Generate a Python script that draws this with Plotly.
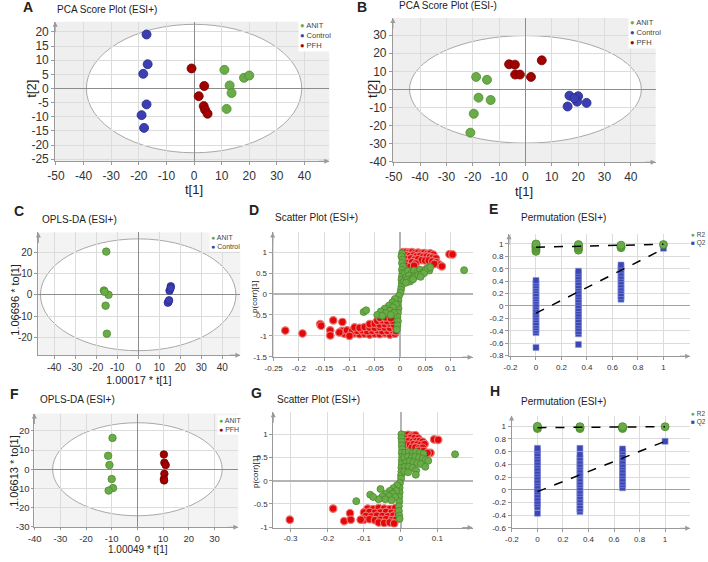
import plotly.graph_objects as go

W, H = 708, 562
FONT = "Liberation Sans Narrow, Arial Narrow, Liberation Sans, sans-serif"
TFONT = "Liberation Sans, Arial, sans-serif"

GREEN, GREEN_EDGE = "#6aad48", "#4b8a2f"
BLUE, BLUE_EDGE = "#3b3fb3", "#262985"
DARKRED, DARKRED_EDGE = "#a30000", "#6e0000"
RED, RED_EDGE = "#e20808", "#ec7474"
AXIS, GRID, ZERO, TICK = "#9a9a9a", "#dcdcdc", "#8c8c8c", "#333333"

# ---------------- data ----------------
# A: PCA score plot (ESI+), (t[1], t[2])
pca_pos_anit = [(11.0, 6.6), (18.1, 3.8), (20.0, 4.6), (12.9, 1.1), (13.6, -1.6), (11.8, -7.2)]
pca_pos_control = [(-17.2, 19.1), (-16.8, 8.6), (-18.4, 5.2), (-17.2, -5.6), (-19.0, -9.4), (-18.1, -13.9)]
pca_pos_pfh = [(-0.9, 7.1), (3.7, 0.9), (1.7, -2.7), (3.5, -6.2), (4.0, -7.5), (4.9, -8.9)]

# B: PCA score plot (ESI-)
pca_neg_anit = [(-18.7, 6.9), (-14.6, 5.3), (-17.8, -4.6), (-13.2, -5.9), (-19.6, -13.5), (-20.9, -24.0)]
pca_neg_control = [(16.7, -3.5), (20.0, -3.8), (19.6, -6.8), (16.0, -9.5), (23.2, -7.5), (18.6, -4.9)]
pca_neg_pfh = [(-6.2, 13.9), (-4.0, 13.7), (-3.9, 8.2), (-2.1, 8.2), (2.1, 6.9), (6.2, 16.1)]

# C / F: OPLS-DA scores
opls_c_anit = [(-15.2, 20.3), (-16.3, 2.0), (-14.1, 0.0), (-15.5, -5.1), (-14.9, -18.3), (-16.0, 1.4)]
opls_c_control = [(15.5, 4.0), (14.9, 1.9), (14.4, -3.3), (14.1, -3.7), (15.4, 3.1), (14.7, -2.6)]
opls_f_anit = [(-9.7, 16.3), (-11.4, 7.0), (-10.9, 2.2), (-10.0, -5.1), (-9.5, -9.8), (-11.2, -11.1)]
opls_f_pfh = [(10.3, 7.7), (10.5, 3.4), (11.0, 2.2), (10.5, -2.4), (10.3, -5.1), (10.4, -5.8)]

# Hotelling ellipse half-axes (t1, t2)
ellipse_a = (39.0, 22.7)
ellipse_b = (44.0, 29.8)
ellipse_c = (46.5, 26.3)
ellipse_f = (33.0, 24.2)

# D: S-plot (p[1], p(corr)[1])
splot_d_red = [
    (0.006, 1.0), (0.012, 1.0), (0.018, 0.99), (0.024, 1.0), (0.030, 0.98), (0.036, 0.99), (0.042, 0.97),
    (0.048, 0.98), (0.054, 0.96), (0.060, 0.97), (0.066, 0.94),
    (0.008, 0.92), (0.014, 0.93), (0.020, 0.91), (0.027, 0.92), (0.033, 0.90), (0.040, 0.91), (0.046, 0.89),
    (0.053, 0.90), (0.059, 0.88), (0.065, 0.87), (0.071, 0.85),
    (0.009, 0.84), (0.015, 0.83), (0.022, 0.85), (0.029, 0.82), (0.036, 0.83), (0.043, 0.81), (0.050, 0.80),
    (0.057, 0.80), (0.064, 0.78), (0.072, 0.76), (0.078, 0.70),
    (0.010, 0.76), (0.017, 0.74), (0.024, 0.76), (0.031, 0.73), (0.012, 0.67), (0.020, 0.65), (0.028, 0.68),
    (0.008, 0.60), (0.098, 0.95), (0.104, 0.945), (0.083, 0.66), (0.068, 0.72),
    (-0.110, -0.95), (-0.100, -0.96), (-0.090, -0.94), (-0.080, -0.96), (-0.070, -0.95), (-0.060, -0.97),
    (-0.050, -0.95), (-0.040, -0.96), (-0.030, -0.94), (-0.020, -0.97), (-0.010, -0.95),
    (-0.115, -0.88), (-0.105, -0.87), (-0.095, -0.89), (-0.085, -0.88), (-0.075, -0.87), (-0.065, -0.89),
    (-0.055, -0.88), (-0.045, -0.87), (-0.035, -0.89), (-0.025, -0.88), (-0.015, -0.87), (-0.008, -0.89),
    (-0.090, -0.80), (-0.080, -0.81), (-0.070, -0.79), (-0.060, -0.80), (-0.050, -0.81), (-0.040, -0.79),
    (-0.030, -0.80), (-0.020, -0.81), (-0.010, -0.79),
    (-0.060, -0.72), (-0.050, -0.71), (-0.040, -0.73), (-0.030, -0.72), (-0.020, -0.71), (-0.012, -0.73),
    (-0.045, -0.64), (-0.035, -0.63), (-0.025, -0.65), (-0.015, -0.64),
    (-0.040, -0.57), (-0.028, -0.56), (-0.018, -0.58),
    (-0.120, -0.92), (-0.100, -1.0),
    (-0.227, -0.874), (-0.193, -0.945), (-0.158, -0.72), (-0.156, -0.76), (-0.138, -0.87), (-0.138, -0.99),
    (-0.132, -0.63), (-0.114, -0.67),
]
splot_d_green = [
    (0.004, 0.97), (0.003, 0.90), (0.005, 0.82), (0.004, 0.74), (0.006, 0.66), (0.004, 0.58), (0.005, 0.50),
    (0.004, 0.42), (0.003, 0.34), (0.004, 0.26), (0.003, 0.18), (0.002, 0.10), (0.001, 0.03),
    (0.010, 0.50), (0.016, 0.55), (0.022, 0.48), (0.028, 0.56), (0.034, 0.50), (0.040, 0.58), (0.046, 0.52),
    (0.052, 0.60), (0.058, 0.56), (0.012, 0.40), (0.018, 0.44), (0.024, 0.38), (0.030, 0.42), (0.036, 0.45),
    (0.042, 0.46), (0.048, 0.50), (0.008, 0.30), (0.014, 0.34), (0.020, 0.30), (0.026, 0.35), (0.055, 0.62),
    (0.060, 0.64), (0.012, 0.27), (0.041, 0.41), (0.127, 0.57),
    (-0.002, -0.05), (-0.003, -0.15), (-0.004, -0.25), (-0.003, -0.35), (-0.004, -0.45), (-0.005, -0.55),
    (-0.004, -0.65), (-0.005, -0.75), (-0.006, -0.85),
    (-0.010, -0.12), (-0.015, -0.20), (-0.008, -0.25), (-0.022, -0.28), (-0.014, -0.32), (-0.030, -0.35),
    (-0.020, -0.40), (-0.038, -0.42), (-0.028, -0.46), (-0.045, -0.50), (-0.035, -0.52), (-0.012, -0.45),
    (-0.018, -0.50), (-0.072, -0.43), (-0.067, -0.39),
]

# G: S-plot (second comparison)
splot_g_red = [
    (0.010, 0.98), (0.020, 0.99), (0.030, 0.97), (0.040, 0.98),
    (0.008, 0.92), (0.018, 0.91), (0.028, 0.93), (0.038, 0.92), (0.048, 0.91),
    (0.012, 0.85), (0.022, 0.86), (0.032, 0.84), (0.042, 0.85), (0.052, 0.86), (0.060, 0.84),
    (0.015, 0.78), (0.025, 0.77), (0.035, 0.79), (0.045, 0.78), (0.055, 0.77), (0.065, 0.79),
    (0.030, 0.71), (0.040, 0.72), (0.050, 0.70), (0.060, 0.71), (0.050, 0.65), (0.062, 0.64),
    (0.091, 0.89), (0.102, 0.88), (0.081, 0.60), (0.073, 0.60),
    (-0.090, -0.60), (-0.075, -0.61), (-0.060, -0.59), (-0.045, -0.60), (-0.030, -0.61), (-0.015, -0.59),
    (-0.100, -0.68), (-0.085, -0.67), (-0.070, -0.69), (-0.055, -0.68), (-0.040, -0.67), (-0.025, -0.69),
    (-0.010, -0.68),
    (-0.095, -0.76), (-0.080, -0.77), (-0.065, -0.75), (-0.050, -0.76), (-0.035, -0.77), (-0.020, -0.75),
    (-0.008, -0.76),
    (-0.100, -0.84), (-0.085, -0.83), (-0.070, -0.85), (-0.055, -0.84), (-0.040, -0.83), (-0.025, -0.85),
    (-0.012, -0.84),
    (-0.060, -0.90), (-0.045, -0.91), (-0.030, -0.90), (-0.018, -0.92),
    (-0.302, -0.84), (-0.184, -0.60), (-0.154, -0.87), (-0.138, -0.70), (-0.136, -0.84), (-0.109, -0.84),
]
splot_g_green = [
    (0.002, 1.0), (0.002, 0.92), (0.003, 0.84), (0.003, 0.76), (0.004, 0.68), (0.003, 0.60), (0.004, 0.52),
    (0.003, 0.44), (0.003, 0.36), (0.002, 0.28), (0.002, 0.20), (0.001, 0.12), (0.001, 0.05),
    (0.012, 0.60), (0.022, 0.62), (0.032, 0.60), (0.042, 0.62), (0.052, 0.60), (0.062, 0.58),
    (0.010, 0.50), (0.020, 0.52), (0.030, 0.50), (0.040, 0.52), (0.050, 0.50), (0.060, 0.48), (0.068, 0.45),
    (0.015, 0.40), (0.025, 0.42), (0.035, 0.40), (0.045, 0.38), (0.055, 0.36), (0.067, 0.30), (0.075, 0.43),
    (0.012, 0.30), (0.022, 0.30), (0.032, 0.28), (0.042, 0.22), (0.041, 0.13), (0.010, 0.20), (0.020, 0.18),
    (0.148, 0.57),
    (-0.002, -0.05), (-0.003, -0.15), (-0.003, -0.25), (-0.004, -0.35), (-0.004, -0.45), (-0.005, -0.55),
    (-0.005, -0.65), (-0.004, -0.75), (-0.003, -0.82),
    (-0.010, -0.10), (-0.020, -0.16), (-0.012, -0.22), (-0.030, -0.22), (-0.022, -0.28), (-0.040, -0.28),
    (-0.032, -0.33), (-0.015, -0.35), (-0.050, -0.34), (-0.042, -0.40), (-0.025, -0.42), (-0.060, -0.40),
    (-0.055, -0.18), (-0.083, -0.30), (-0.075, -0.35), (-0.121, -0.44),
]

# E / H: permutation tests (correlation of permuted y with original y)
perm_x = [0.0, 0.333, 0.667, 1.0]
perm_e_r2 = [[0.88, 0.91, 0.94, 0.96, 0.98, 1.0], [0.90, 0.93, 0.95, 0.97, 0.99], [0.94, 0.96, 0.98], [0.99]]
perm_e_q2 = [
    [-0.67, -0.43, -0.39, -0.35, -0.31, -0.27, -0.22, -0.18, -0.14, -0.10, -0.05, -0.01, 0.03, 0.08, 0.12,
     0.16, 0.20, 0.25, 0.29, 0.33, 0.37, 0.41],
    [-0.62, -0.45, -0.41, -0.36, -0.31, -0.27, -0.22, -0.17, -0.13, -0.08, -0.04, 0.01, 0.06, 0.10, 0.15,
     0.19, 0.24, 0.29, 0.33, 0.38, 0.43, 0.47, 0.52, 0.56],
    [0.11, 0.15, 0.20, 0.25, 0.29, 0.34, 0.39, 0.44, 0.48, 0.53, 0.58, 0.62, 0.66],
    [0.93],
]
perm_e_r2_line = [0.947, 0.995]
perm_e_q2_line = [-0.117, 0.92]

perm_h_r2 = [[0.96, 0.98, 0.995], [0.96, 0.98, 0.99], [0.96, 0.98, 0.99], [0.99]]
perm_h_q2 = [
    [-0.37, -0.27, -0.22, -0.18, -0.13, -0.08, -0.03, 0.01, 0.06, 0.11, 0.15, 0.20, 0.25, 0.29, 0.34, 0.39,
     0.43, 0.48, 0.53, 0.57, 0.62, 0.65],
    [-0.34, -0.30, -0.25, -0.20, -0.16, -0.11, -0.06, -0.02, 0.03, 0.08, 0.12, 0.17, 0.22, 0.26, 0.31, 0.36,
     0.40, 0.45, 0.50, 0.55, 0.65],
    [0.03, 0.08, 0.12, 0.17, 0.22, 0.26, 0.31, 0.36, 0.40, 0.45, 0.50, 0.55, 0.60, 0.64],
    [0.76],
]
perm_h_r2_line = [0.975, 0.99]
perm_h_q2_line = [-0.03, 0.76]

# tick values
ticks_pca_x = [-50, -40, -30, -20, -10, 0, 10, 20, 30, 40]
ticks_a_y = [-25, -20, -15, -10, -5, 0, 5, 10, 15, 20]
ticks_b_y = [-40, -30, -20, -10, 0, 10, 20, 30]
ticks_c_x = [-40, -30, -20, -10, 0, 10, 20, 30, 40]
ticks_c_y = [-20, -10, 0, 10, 20]
ticks_f_x = [-40, -30, -20, -10, 0, 10, 20, 30]
ticks_f_y = [-30, -20, -10, 0, 10, 20]
ticks_d_x = [-0.25, -0.2, -0.15, -0.1, -0.05, 0, 0.05, 0.1]
ticks_d_y = [-1.5, -1, -0.5, 0, 0.5, 1]
ticks_g_x = [-0.3, -0.2, -0.1, 0, 0.1]
ticks_g_y = [-1, -0.5, 0, 0.5, 1]
ticks_perm_x = [-0.2, 0, 0.2, 0.4, 0.6, 0.8, 1]
ticks_e_y = [-0.8, -0.6, -0.4, -0.2, 0, 0.2, 0.4, 0.6, 0.8, 1]
ticks_h_y = [-0.6, -0.4, -0.2, 0, 0.2, 0.4, 0.6, 0.8, 1]


def lab(vals):
    return ["%g" % v for v in vals]


fig = go.Figure()
annotations = []
shapes = []


def set_axes(n, box, xr, yr, xt, yt, size, xzero=True, zcol=ZERO, zw=1, tlen=3):
    l, t, r, b = box
    s = "" if n == 1 else str(n)
    common = dict(showline=True, linecolor=AXIS, linewidth=1, ticks="outside", ticklen=tlen, tickcolor=AXIS,
                  showgrid=True, gridcolor=GRID, gridwidth=1, zerolinecolor=zcol, zerolinewidth=zw,
                  tickfont=dict(family=FONT, size=size, color=TICK), fixedrange=True, tickmode="array")
    fig.update_layout(**{
        "xaxis" + s: dict(common, domain=[l / W, r / W], range=xr, anchor="y" + s,
                          tickvals=xt, ticktext=lab(xt), zeroline=xzero),
        "yaxis" + s: dict(common, domain=[1 - b / H, 1 - t / H], range=yr, anchor="x" + s,
                          tickvals=yt, ticktext=lab(yt), zeroline=True),
    })
    # axis arrows
    xd, yd = ("x" + s + " domain"), ("y" + s + " domain")
    annotations.append(dict(xref=xd, yref=yd, x=1, y=0, ax=-12, ay=0, text="", showarrow=True,
                            arrowhead=2, arrowsize=1, arrowwidth=1, arrowcolor=AXIS))
    annotations.append(dict(xref=xd, yref=yd, x=0, y=1, ax=0, ay=12, text="", showarrow=True,
                            arrowhead=2, arrowsize=1, arrowwidth=1, arrowcolor=AXIS))
    return s


def score_bg(s, radii, grey="#efefef"):
    shapes.append(dict(type="rect", xref="x" + s + " domain", yref="y" + s + " domain", x0=0, x1=1, y0=0, y1=1,
                       fillcolor=grey, line=dict(width=0), layer="below"))
    shapes.append(dict(type="circle", xref="x" + s, yref="y" + s, x0=-radii[0], x1=radii[0],
                       y0=-radii[1], y1=radii[1], fillcolor="white",
                       line=dict(color="#a8a8a8", width=1), layer="below"))


def add_points(s, pts, color, edge, size, edge_w=0.8, symbol="circle"):
    fig.add_trace(go.Scatter(x=[p[0] for p in pts], y=[p[1] for p in pts], mode="markers",
                             xaxis="x" + s, yaxis="y" + s,
                             marker=dict(color=color, size=size, symbol=symbol, line=dict(color=edge, width=edge_w))))


def add_perm(s, r2, q2, r2_line, q2_line):
    for i, vals in enumerate(q2):
        fig.add_trace(go.Scatter(x=[perm_x[i]] * len(vals), y=vals, mode="markers", xaxis="x" + s, yaxis="y" + s,
                                 marker=dict(color="#3a47b5", size=6, symbol="square",
                                             line=dict(color="#8d95db", width=0.6))))
    for i, vals in enumerate(r2):
        fig.add_trace(go.Scatter(x=[perm_x[i]] * len(vals), y=vals, mode="markers", xaxis="x" + s, yaxis="y" + s,
                                 marker=dict(color=GREEN, size=8, line=dict(color=GREEN_EDGE, width=0.8))))
    for line in (r2_line, q2_line):
        fig.add_trace(go.Scatter(x=[perm_x[0], perm_x[-1]], y=line, mode="lines", xaxis="x" + s, yaxis="y" + s,
                                 line=dict(color="black", width=1.5, dash="dash")))


# ---- A
s = set_axes(1, (47.7, 22, 325, 163), [-50.3, 49], [-25.7, 23.6], ticks_pca_x, ticks_a_y, 12)
score_bg(s, ellipse_a)
add_points(s, pca_pos_anit, GREEN, GREEN_EDGE, 9)
add_points(s, pca_pos_control, BLUE, BLUE_EDGE, 9)
add_points(s, pca_pos_pfh, DARKRED, DARKRED_EDGE, 9)

# ---- B
s = set_axes(2, (389.3, 18.3, 655, 164), [-50.3, 49.4], [-40.4, 39.5], ticks_pca_x, ticks_b_y, 12)
score_bg(s, ellipse_b)
add_points(s, pca_neg_anit, GREEN, GREEN_EDGE, 9)
add_points(s, pca_neg_control, BLUE, BLUE_EDGE, 9)
add_points(s, pca_neg_pfh, DARKRED, DARKRED_EDGE, 9)

# ---- C
s = set_axes(3, (30.7, 235, 235, 359), [-47.5, 48.6], [-28.4, 29.3], ticks_c_x, ticks_c_y, 10)
score_bg(s, ellipse_c, "#f3f3f3")
add_points(s, opls_c_anit, GREEN, GREEN_EDGE, 7.5)
add_points(s, opls_c_control, BLUE, BLUE_EDGE, 7.5)

# ---- D
s = set_axes(4, (267.7, 235, 470, 361), [-0.252, 0.144], [-1.51, 1.47], ticks_d_x, ticks_d_y, 8,
             zcol="#b4b4b4", zw=2)
add_points(s, splot_d_red, RED, RED_EDGE, 7.5, 1.2)
add_points(s, splot_d_green, GREEN, GREEN_EDGE, 7)

# ---- E
s = set_axes(5, (506.7, 236.7, 690, 360), [-0.212, 1.21], [-0.81, 1.158], ticks_perm_x, ticks_e_y, 8,
             xzero=False, zcol="#a0a0a0")
add_perm(s, perm_e_r2, perm_e_q2, perm_e_r2_line, perm_e_q2_line)

# ---- F
s = set_axes(6, (26.7, 418, 233, 533), [-40.1, 39.3], [-30.2, 28.98], ticks_f_x, ticks_f_y, 9.5, tlen=2)
score_bg(s, ellipse_f, "#f3f3f3")
add_points(s, opls_f_anit, GREEN, GREEN_EDGE, 7.5)
add_points(s, opls_f_pfh, DARKRED, DARKRED_EDGE, 7.5)

# ---- G
s = set_axes(7, (268.3, 416.7, 470, 533.3), [-0.347, 0.196], [-1.01, 1.475], ticks_g_x, ticks_g_y, 8,
             zcol="#b4b4b4", zw=2)
add_points(s, splot_g_red, RED, RED_EDGE, 7.5, 1.2)
add_points(s, splot_g_green, GREEN, GREEN_EDGE, 7)

# ---- H
s = set_axes(8, (509.3, 420, 690, 534), [-0.203, 1.197], [-0.605, 1.165], ticks_perm_x, ticks_h_y, 8,
             xzero=False, zcol="#a0a0a0")
add_perm(s, perm_h_r2, perm_h_q2, perm_h_r2_line, perm_h_q2_line)


# ---------------- text ----------------
def text(x, y, t, size, bold=False, angle=0, anchor="left", family=TFONT, color="#222"):
    annotations.append(dict(xref="paper", yref="paper", x=x / W, y=1 - y / H, text=t, showarrow=False,
                            xanchor=anchor, yanchor="middle", textangle=angle,
                            font=dict(family=family, size=size, color=color)))


for letter, x, y in [("A", 13, 7), ("B", 351, 7), ("C", 4, 213), ("D", 242, 212),
                     ("E", 484, 211), ("F", 0, 398), ("G", 244, 397), ("H", 485, 395)]:
    text(x, y, "<b>%s</b>" % letter, 14)

for t, x, y in [("PCA Score Plot (ESI+)", 48, 10), ("PCA Score Plot (ESI-)", 393, 6),
                ("OPLS-DA (ESI+)", 32, 222), ("Scatter Plot (ESI+)", 268, 220), ("Permutation (ESI+)", 517, 220),
                ("OPLS-DA (ESI+)", 30, 404), ("Scatter Plot (ESI+)", 270, 404), ("Permutation (ESI+)", 517, 406)]:
    text(x, y, t, 10)

text(23, 90, "t[2]", 13, angle=-90, anchor="center", family=FONT)
text(188, 192, "t[1]", 13, anchor="center", family=FONT)
text(368, 90, "t[2]", 13, angle=-90, anchor="center", family=FONT)
text(522, 194, "t[1]", 13, anchor="center", family=FONT)
text(7, 303, "1.06696 * to[1]", 11, angle=-90, anchor="center", family=FONT)
text(132, 384, "1.00017 * t[1]", 11, anchor="center", family=FONT)
text(6, 476, "1.06613 * to[1]", 11, angle=-90, anchor="center", family=FONT)
text(131, 555, "1.00049 * t[1]", 10, anchor="center", family=FONT)
text(250, 300, "p(corr)[1]", 8, angle=-90, anchor="center", family=FONT)
text(251, 477, "p(corr)[1]", 8, angle=-90, anchor="center", family=FONT)


def legend(x, y, items, size=7, pad=1, anchor="left"):
    rows = ["<span style='color:%s'>%s</span> %s" % (c, sym, name) for name, c, sym in items]
    annotations.append(dict(xref="paper", yref="paper", x=x / W, y=1 - y / H, text="<br>".join(rows),
                            showarrow=False, xanchor=anchor, yanchor="top", align="left",
                            bgcolor="white", borderpad=pad,
                            font=dict(family=FONT, size=size, color="#444")))


legend(293, 19, [("ANIT", GREEN, "●"), ("Control", BLUE, "●"), ("PFH", DARKRED, "●")], 7.5)
legend(627, 16, [("ANIT", GREEN, "●"), ("Control", BLUE, "●"), ("PFH", DARKRED, "●")], 7.5)
legend(203, 234, [("ANIT", GREEN, "●"), ("Control", BLUE, "●")], 7)
legend(211, 419, [("ANIT", GREEN, "●"), ("PFH", DARKRED, "●")], 7)
legend(707, 232, [("R2", GREEN, "●"), ("Q2", "#3a47b5", "■")], 6.5, 0, "right")
legend(707, 413, [("R2", GREEN, "●"), ("Q2", "#3a47b5", "■")], 6.5, 0, "right")

fig.update_layout(width=W, height=H, margin=dict(l=0, r=0, t=0, b=0), showlegend=False,
                  paper_bgcolor="white", plot_bgcolor="white",
                  annotations=annotations, shapes=shapes)

# the page's default body margin would push the 708x562 figure off the window edges
fig.write_html("out.html", config={"displayModeBar": False},
               post_script="document.body.style.margin = '0';")
